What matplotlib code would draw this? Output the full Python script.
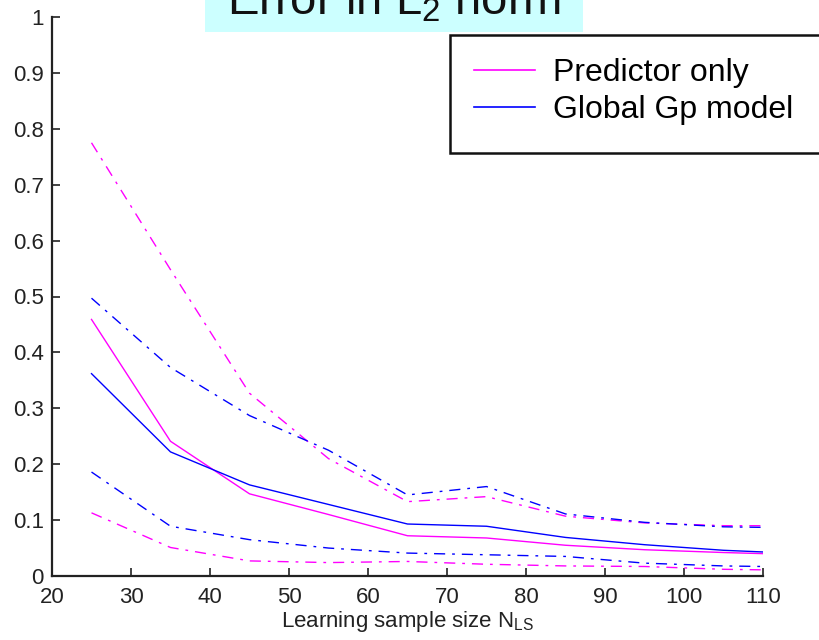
import matplotlib
matplotlib.use("Agg")
import matplotlib.pyplot as plt
from matplotlib.patches import Rectangle
from matplotlib.lines import Line2D

plt.rcParams['font.family'] = ['Liberation Sans', 'DejaVu Sans']
plt.rcParams['mathtext.fontset'] = 'custom'
plt.rcParams['mathtext.rm'] = 'Liberation Sans'
plt.rcParams['mathtext.it'] = 'Liberation Sans:italic'

# learning sample sizes
n_ls = [25, 35, 45, 55, 65, 75, 85, 95, 105, 110]

# predictor only (magenta): mean, upper and lower band
pred_mean = [0.459, 0.241, 0.147, 0.110, 0.072, 0.068, 0.055, 0.047, 0.042, 0.040]
pred_up = [0.775, 0.548, 0.327, 0.210, 0.133, 0.142, 0.107, 0.095, 0.090, 0.090]
pred_lo = [0.113, 0.051, 0.027, 0.024, 0.026, 0.021, 0.018, 0.017, 0.012, 0.011]

# global Gp model (blue)
gp_mean = [0.362, 0.222, 0.163, 0.128, 0.093, 0.089, 0.069, 0.056, 0.046, 0.043]
gp_up = [0.497, 0.373, 0.287, 0.225, 0.145, 0.160, 0.111, 0.096, 0.088, 0.087]
gp_lo = [0.186, 0.089, 0.065, 0.050, 0.041, 0.038, 0.035, 0.023, 0.018, 0.017]

x_ticks = [20, 30, 40, 50, 60, 70, 80, 90, 100, 110]
y_ticks = [0, 0.1, 0.2, 0.3, 0.4, 0.5, 0.6, 0.7, 0.8, 0.9, 1]
y_labels = ["0", "0.1", "0.2", "0.3", "0.4", "0.5", "0.6", "0.7", "0.8", "0.9", "1"]

MAG = "#ff00ff"
BLU = "#0000ff"
W, H = 819, 640

fig = plt.figure(figsize=(W / 100, H / 100), dpi=100)
ax = fig.add_axes([52 / W, 1 - 576 / H, (763 - 52) / W, (576 - 17) / H])

dd = (0, (8, 5, 2, 5))
ax.plot(n_ls, pred_up, color=MAG, lw=1.0, linestyle=dd)
ax.plot(n_ls, gp_up, color=BLU, lw=1.0, linestyle=dd)
ax.plot(n_ls, pred_mean, color=MAG, lw=1.0)
ax.plot(n_ls, gp_mean, color=BLU, lw=1.0)
ax.plot(n_ls, gp_lo, color=BLU, lw=1.0, linestyle=dd)
ax.plot(n_ls, pred_lo, color=MAG, lw=1.0, linestyle=dd)

ax.set_xlim(20, 110)
ax.set_ylim(0, 1)
ax.set_xticks(x_ticks)
ax.set_yticks(y_ticks)
ax.set_yticklabels(y_labels)
for s in ["top", "right"]:
    ax.spines[s].set_visible(False)
for s in ["left", "bottom"]:
    ax.spines[s].set_linewidth(1.6)
    ax.spines[s].set_color("#222222")
ax.tick_params(direction="in", length=6, width=1.2, color="#222222",
               labelsize=16, labelcolor="#222222")
ax.tick_params(axis="x", pad=8)
ax.tick_params(axis="y", pad=6)
ax.set_xlabel(r"Learning sample size $\mathregular{N_{LS}}$", fontsize=16,
              color="#222222", labelpad=1)

# title with cyan background, cut at the top edge
fig.patches.append(Rectangle((205 / W, 1 - 32 / H), (583 - 205) / W, 32 / H,
                             transform=fig.transFigure, facecolor="#ccffff",
                             edgecolor="none", zorder=0))
fig.text(227 / W, 1 - 14 / H, r"Error in $\mathregular{L_2}$ norm", fontsize=34,
         va="baseline", ha="left", color="#111111")

# legend box running off the right edge
fig.patches.append(Rectangle((450 / W, 1 - 153 / H), 400 / W, (153 - 35) / H,
                             transform=fig.transFigure, facecolor="white",
                             edgecolor="#111111", linewidth=1.8, zorder=5))
handles = [Line2D([], [], color=MAG, lw=1.2), Line2D([], [], color=BLU, lw=1.2)]
fig.legend(handles, ["Predictor only", "Global Gp model"], frameon=False,
           loc="upper left", bbox_to_anchor=(452 / W, 1 - 36 / H),
           fontsize=23, handlelength=1.9, handletextpad=0.55, labelspacing=0.2,
           borderpad=0.2)

fig.savefig("out.png", dpi=100)
